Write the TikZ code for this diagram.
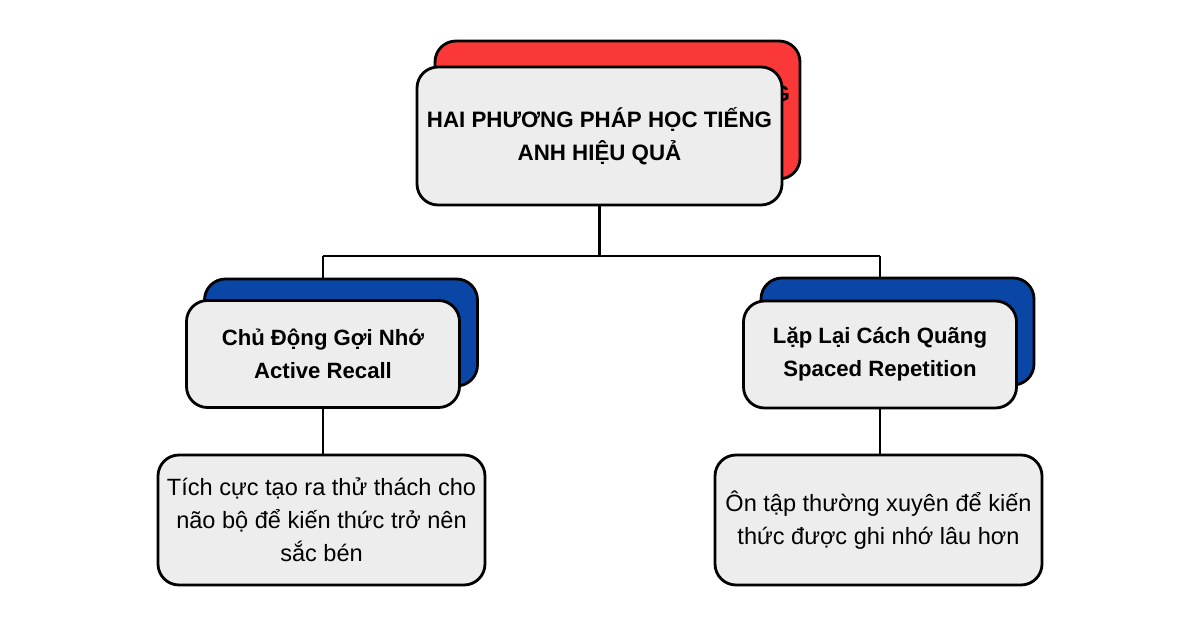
\documentclass[tikz,border=0pt]{standalone}
\usepackage{fontspec}
\setmainfont{Liberation Sans}
\usepackage{xcolor}
\usetikzlibrary{positioning}

\definecolor{boxgrey}{RGB}{237,237,237}
\definecolor{backred}{RGB}{250,56,56}
\definecolor{backblue}{RGB}{10,70,165}

\tikzset{
  card/.style={draw=black,line width=1.6pt,rounded corners=0.42cm,fill=boxgrey,align=center,inner sep=0pt},
  headcard/.style={card,minimum width=7.3cm,minimum height=2.76cm,font=\fontsize{12.7}{18.8}\selectfont\bfseries},
  methodcard/.style={card,minimum width=5.46cm,minimum height=2.14cm,font=\fontsize{12.6}{18.8}\selectfont\bfseries},
  notecard/.style={card,minimum width=6.54cm,minimum height=2.6cm,font=\fontsize{13.4}{18.8}\selectfont},
  link/.style={draw=black,line width=1.3pt}
}

\begin{document}
\begin{tikzpicture}
\useasboundingbox[fill=white] (0,0) rectangle (24,12.56);

% Back cards
\node[headcard,fill=backred] (titleback) at (12.35,10.36) {HAI PHƯƠNG PHÁP HỌC TIẾNG\\ANH HIỆU QUẢ};
\node[methodcard,fill=backblue] (leftback) at (6.82,5.91) {};
\node[methodcard,fill=backblue] (rightback) at (17.95,5.93) {};

% Front cards
\node[headcard] (title) at (11.99,9.84) {HAI PHƯƠNG PHÁP HỌC TIẾNG\\ANH HIỆU QUẢ};
\node[methodcard] (left) at (6.46,5.48) {Chủ Động Gợi Nhớ\\Active Recall};
\node[methodcard] (right) at (17.6,5.47) {Lặp Lại Cách Quãng\\Spaced Repetition};

% Notes
\node[notecard] (leftnote) at (6.43,2.16) {Tích cực tạo ra thử thách cho\\não bộ để kiến thức trở nên\\sắc bén};
\node[notecard] (rightnote) at (17.57,2.16) {Ôn tập thường xuyên để kiến\\thức được ghi nhớ lâu hơn};

% Connectors
\coordinate (bus) at (0,7.44);
\draw[link] (title.south) -- (title.south |- bus);
\draw[link] (left.north |- bus) -- (right.north |- bus);
\draw[link] (left.north |- bus) -- (left.north |- leftback.north);
\draw[link] (right.north |- bus) -- (right.north |- rightback.north);
\draw[link] (left.south) -- (left.south |- leftnote.north);
\draw[link] (right.south) -- (right.south |- rightnote.north);
\end{tikzpicture}
\end{document}
